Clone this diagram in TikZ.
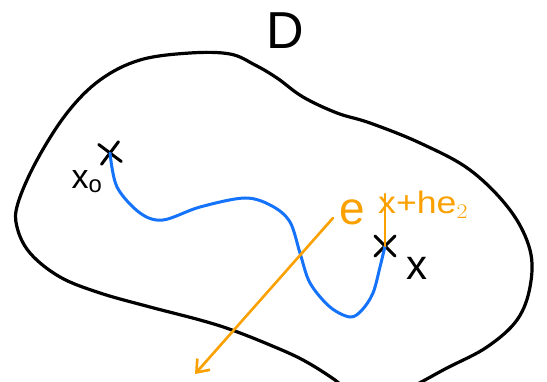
\documentclass[tikz,border=0pt]{standalone}
\usepackage{fontspec}
\setmainfont{Liberation Sans}
\usetikzlibrary{shapes.misc,arrows.meta}
\definecolor{pathblue}{RGB}{20,115,250}
\definecolor{vecorange}{RGB}{250,160,0}
\tikzset{
  outline/.style={line width=3.2pt, black, line cap=round, line join=round},
  bluepath/.style={line width=3pt, pathblue, line cap=round},
  orangeline/.style={line width=2.6pt, vecorange, line cap=round},
  crossmark/.style={cross out, draw, black, line width=3pt, minimum size=17pt, inner sep=0pt, line cap=round},
  lbl/.style={inner sep=0pt, anchor=center},
}
\begin{document}
\begin{tikzpicture}[x=1pt,y=-1pt]
\useasboundingbox (0,0) rectangle (547,382);
\clip (0,0) rectangle (547,382);
% domain outline
\draw[outline] plot[smooth cycle, tension=0.6] coordinates {
 (140,60) (190,53) (230,54) (255,65) (277,78) (303,97) (337,113) (370,123)
 (420,143) (470,170) (510,210) (530,250) (530,287) (517,320) (487,347)
 (447,368) (400,392) (360,400) (335,380) (303,360) (270,345) (232,330)
 (200,320) (150,307) (100,293) (60,277) (30,253) (17,227) (18,203)
 (37,160) (67,113) (100,80)};
% labels
\node[lbl, font=\fontsize{52}{52}\selectfont] (D) at (285,31) {D};
\node[crossmark, rotate=8] (cx0) at (110,153) {};
\node[lbl, font=\fontsize{34}{34}\selectfont] (lx0) at (87,182) {x$_\mathrm{o}$};
\node[crossmark] (cx) at (385,246) {};
\node[lbl, font=\fontsize{42}{42}\selectfont] (lx) at (417,268) {x};
% path
\draw[bluepath] plot[smooth, tension=0.55] coordinates {
 (cx0.center) (117,187) (140,213) (163,220) (200,207) (245,198) (272,206)
 (290,222) (300,253) (310,283) (330,307) (350,317) (362,310) (373,293)
 (380,267) (cx.center)};
% orange
\coordinate (xh) at (385,194);
\draw[orangeline] (cx.center) -- (xh);
\node[lbl, text=vecorange, font=\fontsize{31}{31}\selectfont, anchor=west, xscale=1.15] (lxh) at (378,205) {x+he$_2$};
\coordinate (estart) at (333,218);
\coordinate (etip) at (195,374);
\draw[orangeline, -{Straight Barb[length=11pt,width=17pt,line width=2.6pt]}] (estart) -- (etip);
\node[lbl, text=vecorange, font=\fontsize{46}{46}\selectfont] (le) at (352,212) {e};
\end{tikzpicture}
\end{document}
